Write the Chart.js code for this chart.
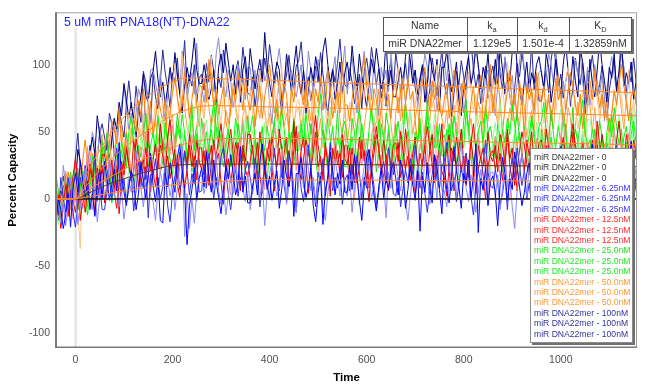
<!DOCTYPE html>
<html>
<head>
<meta charset="utf-8">
<script src="https://cdn.jsdelivr.net/npm/chart.js@4.4.1/dist/chart.umd.min.js"></script>
<style>
  body { margin: 0; background: #fff; }
</style>
</head>
<body>
<canvas id="chartKinetics" width="649" height="389"></canvas>
<script>
// sample times (s) of the measured traces, 20 per row
const times = [
  -40,-35,-30,-25,-20,-15,-10,-5,0,5,10,15,20,25,30,35,40,45,50,55,
  60,65,70,75,80,85,90,95,100,105,110,115,120,125,130,135,140,145,150,155,
  160,165,170,175,180,185,190,195,200,205,210,215,220,225,230,235,240,245,250,255,
  260,265,270,275,280,285,290,295,300,305,310,315,320,325,330,335,340,345,350,355,
  360,365,370,375,380,385,390,395,400,405,410,415,420,425,430,435,440,445,450,455,
  460,465,470,475,480,485,490,495,500,505,510,515,520,525,530,535,540,545,550,555,
  560,565,570,575,580,585,590,595,600,605,610,615,620,625,630,635,640,645,650,655,
  660,665,670,675,680,685,690,695,700,705,710,715,720,725,730,735,740,745,750,755,
  760,765,770,775,780,785,790,795,800,805,810,815,820,825,830,835,840,845,850,855,
  860,865,870,875,880,885,890,895,900,905,910,915,920,925,930,935,940,945,950,955,
  960,965,970,975,980,985,990,995,1000,1005,1010,1015,1020,1025,1030,1035,1040,1045,1050,1055,
  1060,1065,1070,1075,1080,1085,1090,1095,1100,1105,1110,1115,1120,1125,1130,1135,1140,1145,1150,1157];

const xTicks = [0, 200, 400, 600, 800, 1000];
const yTicks = [-100, -50, 0, 50, 100];

// buffer (0) traces
const zeroTimes = [-40, 1157];
const zero1 = [0, 0];
const zero2 = [0, 0];
const zero3 = [0, 0];

// 6.25nM
const blue1 = [
  -16,0,-8,-22,-12,4,-21,8,19,5,28,14,1,13,-8,4,-13,11,22,0,
  28,15,-1,11,22,6,42,18,5,-5,9,21,15,-8,4,28,14,0,18,34,
  10,-2,16,-16,-18,19,9,27,15,5,31,41,21,7,-34,-5,7,23,-1,15,
  23,9,35,17,5,29,13,1,-11,7,25,15,33,19,3,11,39,5,17,-3,
  -3,9,19,3,27,41,23,7,17,-1,11,21,-7,7,29,17,9,25,-13,19,
  19,31,15,1,9,23,-5,-17,5,17,-19,7,15,35,21,3,19,11,29,5,
  5,25,7,33,17,-1,-16,9,31,37,19,3,-9,9,23,1,15,7,21,27,
  15,3,29,19,-7,7,25,11,-1,21,-24,17,5,27,9,-3,33,23,7,-11,
  25,7,-3,17,39,21,9,-7,19,11,29,1,17,41,-25,15,7,23,-5,13,
  17,5,-20,11,31,19,-1,15,7,35,23,9,-5,5,19,27,11,37,21,3,
  1,15,-7,7,21,11,29,17,39,25,9,19,3,-11,5,17,31,13,7,23,
  27,41,19,5,15,-3,9,23,11,33,17,1,-13,7,21,11,25,43,19,9];
const blue2 = [
  -14,0,-18,-2,-20,-6,15,0,9,-19,-6,8,23,13,0,-8,9,-17,0,18,
  20,7,29,15,2,12,-6,6,-15,-1,15,5,21,36,20,8,-6,12,18,2,
  -2,-16,6,20,10,28,16,2,14,-8,8,24,38,-28,4,-22,0,-18,6,16,
  18,4,14,30,22,8,34,6,-4,10,-12,2,16,4,26,14,32,8,-2,20,
  -8,6,22,10,0,16,-20,4,18,28,14,2,8,32,20,-4,10,24,6,-10,
  14,26,8,40,22,6,16,-2,10,20,-6,-16,4,18,8,30,18,2,26,10,
  2,16,-10,8,20,-4,12,24,36,18,0,10,-8,6,22,14,-14,20,8,28,
  28,16,6,22,-2,-16,2,18,8,26,14,4,32,18,-4,8,16,0,38,6,
  6,-6,10,24,16,2,30,42,20,8,-2,18,10,-10,4,22,6,14,-4,20,
  20,0,18,-8,8,26,10,16,-6,-22,6,22,34,16,2,24,10,18,4,-2,
  10,22,-4,6,32,18,0,14,26,4,-12,8,20,-2,16,28,-8,2,18,36,
  0,18,28,8,-14,4,16,32,6,14,-4,24,8,-16,20,10,18,2,30,12];
const blue3 = [
  0,-12,16,0,-10,16,1,-10,-21,-3,16,6,25,11,-4,4,33,-1,12,-8,
  -8,5,15,-1,24,38,20,4,15,-3,9,19,-9,6,28,16,8,24,-14,18,
  18,30,14,0,9,23,-5,-17,5,17,27,7,15,35,21,3,19,11,29,5,
  6,26,8,34,18,0,16,10,32,38,20,4,-8,10,24,2,16,8,22,28,
  16,4,30,20,-6,8,26,12,0,22,38,18,6,28,10,-2,34,24,8,-10,
  26,8,-2,18,40,22,10,-6,20,12,30,2,18,42,6,16,8,24,-4,14,
  18,6,26,12,32,20,0,16,8,36,24,10,-4,6,20,28,12,38,22,4,
  2,16,-6,8,22,12,30,18,40,26,10,20,4,-10,6,18,32,14,8,24,
  28,42,20,6,16,-2,10,24,12,34,18,2,-12,8,22,12,26,44,20,10,
  8,22,12,-4,4,18,-8,20,30,16,38,24,10,22,0,12,-6,18,28,6,
  34,20,4,16,26,10,36,22,8,-2,12,24,18,-6,6,30,16,2,20,36,
  12,0,18,-14,4,20,10,28,16,6,32,42,22,8,18,-4,8,24,0,16];

// 12.5nM
const red1 = [
  -12,3,-22,-3,10,-13,4,17,30,13,-4,7,-10,5,22,15,-12,23,12,33,
  33,22,13,29,6,-7,11,28,18,37,25,16,44,31,9,21,30,14,52,21,
  21,9,25,40,32,18,46,59,37,25,15,35,28,8,22,40,24,32,14,38,
  38,18,36,10,26,44,28,34,12,-4,24,40,52,34,20,42,28,36,22,16,
  28,40,14,24,50,36,18,32,44,22,6,26,38,16,34,46,10,20,36,54,
  18,36,46,26,4,22,34,50,24,32,14,42,26,2,38,28,36,20,48,30,
  26,38,18,32,12,24,44,28,36,8,20,34,48,38,24,16,32,6,22,40,
  42,28,50,36,22,32,14,26,4,18,34,24,40,54,38,26,12,30,36,20,
  16,2,24,38,28,46,34,20,32,10,26,42,56,36,22,32,18,0,24,34,
  36,22,32,48,40,26,52,24,14,28,6,20,34,22,44,32,50,26,16,38,
  10,24,40,28,18,34,-2,22,36,46,32,20,26,50,38,14,28,42,24,8,
  32,44,26,58,40,24,34,16,28,38,12,2,22,36,26,48,36,20,44,28];
const red2 = [
  10,-7,-16,5,14,11,0,-15,12,5,24,-3,14,39,4,15,8,25,-2,17,
  21,10,31,17,38,27,7,24,16,45,33,20,6,17,31,39,24,50,34,17,
  15,29,7,22,36,26,44,33,55,41,25,35,20,6,22,34,48,30,24,40,
  43,57,35,21,31,13,25,39,27,49,33,17,3,23,37,27,41,59,35,25,
  23,37,27,11,19,33,7,35,45,31,53,39,25,37,15,27,9,33,43,21,
  49,35,19,31,41,25,61,37,23,13,27,39,33,9,21,45,31,17,35,51,
  27,15,33,1,19,35,25,43,31,21,47,57,37,23,33,11,23,39,15,31,
  39,25,51,33,21,45,29,17,5,23,41,31,49,35,19,27,55,21,33,13,
  13,25,35,19,43,57,39,23,33,15,27,37,9,23,45,33,25,41,3,35,
  35,47,31,17,25,39,11,-1,21,33,43,23,31,51,37,19,35,27,45,21,
  21,41,23,49,33,15,31,25,47,63,35,19,7,25,39,17,31,23,37,43,
  31,19,45,35,9,23,41,27,15,37,53,33,21,43,25,13,49,39,23,5];
const red3 = [
  4,-9,2,9,12,-1,14,-1,-10,5,-16,-1,14,3,26,15,34,11,2,25,
  -3,12,29,17,8,25,-11,14,28,39,25,14,20,45,33,9,24,38,20,5,
  29,41,23,56,38,22,32,15,27,37,11,1,22,36,26,48,36,20,44,28,
  22,36,10,28,40,16,32,44,56,38,20,30,12,26,42,34,6,40,28,48,
  48,36,26,42,18,4,22,38,28,46,34,24,52,38,16,28,36,20,58,26,
  26,14,30,44,36,22,50,62,40,28,18,38,30,10,24,42,26,34,16,40,
  40,20,38,12,28,46,30,36,14,-2,26,42,54,36,22,44,30,38,24,18,
  30,42,16,26,52,38,20,34,46,24,8,28,40,18,36,48,12,22,38,56,
  20,38,48,28,6,24,36,52,26,34,16,44,28,4,40,30,38,22,50,32,
  28,40,20,34,14,26,46,30,38,10,22,36,50,40,26,18,34,8,24,42,
  44,30,52,38,24,34,16,28,6,20,36,26,42,56,40,28,14,32,38,22,
  18,4,26,40,30,48,36,22,34,12,28,44,58,38,24,34,20,2,26,36];

// 25.0nM
const green1 = [
  18,5,-10,3,14,-1,16,13,0,-8,8,21,16,-6,7,32,20,7,26,43,
  20,9,28,-3,16,33,24,43,32,23,50,61,42,29,39,18,31,47,24,40,
  49,35,62,44,33,57,41,30,18,36,55,45,63,49,33,42,70,36,48,28,
  28,40,50,34,58,72,54,38,48,30,42,52,24,38,60,48,40,56,18,50,
  50,62,46,32,40,54,26,14,36,48,58,38,46,66,52,34,50,42,60,36,
  36,56,38,64,48,30,46,40,62,78,50,34,22,40,54,32,46,38,52,58,
  46,34,60,50,24,38,56,42,30,52,68,48,36,58,40,28,64,54,38,20,
  56,38,28,48,70,52,40,24,50,42,60,32,48,72,36,46,38,54,26,44,
  48,36,56,42,62,50,30,46,38,66,54,40,26,36,50,58,42,68,52,34,
  32,46,24,38,52,42,60,48,70,56,40,50,34,20,36,48,62,44,38,54,
  58,72,50,36,46,28,40,54,42,64,48,32,18,38,52,42,56,74,50,40,
  38,52,42,26,34,48,22,50,60,46,68,54,40,52,30,42,24,48,58,36];
const green2 = [
  -8,-19,-2,13,6,-7,12,18,14,4,-4,17,10,-8,7,26,12,21,4,29,
  30,11,30,5,22,41,26,33,12,-3,26,43,56,39,25,48,35,43,30,24,
  36,48,23,33,60,46,28,43,55,33,18,38,50,28,46,59,23,33,49,67,
  31,49,59,39,17,35,47,63,37,45,27,55,39,15,51,41,49,33,61,43,
  39,51,31,45,25,37,57,41,49,21,33,47,61,51,37,29,45,19,35,53,
  55,41,63,49,35,45,27,39,17,31,47,37,53,67,51,39,25,43,49,33,
  29,15,37,51,41,59,47,33,45,23,39,55,69,49,35,45,31,13,37,47,
  49,35,45,61,53,39,65,37,27,41,19,33,47,35,57,45,63,39,29,51,
  23,37,53,41,31,47,11,35,49,59,45,33,39,63,51,27,41,55,37,21,
  45,57,39,71,53,37,47,29,41,51,25,15,35,49,39,61,49,33,57,41,
  33,47,21,39,51,27,43,55,67,49,31,41,23,37,53,45,17,51,39,59,
  59,47,37,53,29,15,33,49,39,57,45,35,63,49,27,39,47,31,69,37];
const green3 = [
  -14,1,-20,-5,10,1,20,9,24,19,5,16,1,-12,5,18,34,17,12,29,
  34,49,28,15,26,9,22,36,25,48,33,18,5,26,40,31,46,64,41,31,
  30,44,35,19,28,42,16,44,55,41,63,49,36,48,26,38,20,44,54,32,
  60,46,30,42,52,36,72,48,34,24,38,50,44,20,32,56,42,28,46,62,
  38,26,44,12,30,46,36,54,42,32,58,68,48,34,44,22,34,50,26,42,
  50,36,62,44,32,56,40,28,16,34,52,42,60,46,30,38,66,32,44,24,
  24,36,46,30,54,68,50,34,44,26,38,48,20,34,56,44,36,52,14,46,
  46,58,42,28,36,50,22,10,32,44,54,34,42,62,48,30,46,38,56,32,
  32,52,34,60,44,26,42,36,58,74,46,30,18,36,50,28,42,34,48,54,
  42,30,56,46,20,34,52,38,26,48,64,44,32,54,36,24,60,50,34,16,
  52,34,24,44,66,48,36,20,46,38,56,28,44,68,32,42,34,50,22,40,
  44,32,52,38,58,46,26,42,34,62,50,36,22,32,46,54,38,64,48,30];

// 50.0nM
const orange1 = [
  -10,-14,-8,8,0,20,10,-2,12,-8,10,28,44,26,14,26,14,-2,24,36,
  40,28,40,58,52,40,68,42,34,50,29,45,60,50,73,62,82,59,50,73,
  46,61,78,67,58,75,40,64,79,89,76,64,71,95,83,60,74,88,70,54,
  78,90,72,104,86,70,80,62,74,84,58,48,68,82,72,94,82,66,90,74,
  66,80,54,72,84,60,76,88,100,82,64,74,56,70,86,78,50,84,72,92,
  92,80,70,86,62,48,66,82,72,90,78,68,96,82,60,72,80,64,102,70,
  70,58,74,88,80,66,94,106,84,72,62,82,74,54,68,86,70,78,60,84,
  84,64,82,56,72,90,74,80,58,42,70,86,98,80,66,88,74,82,68,62,
  74,86,60,70,96,82,64,78,90,68,52,72,84,62,80,92,56,66,82,100,
  64,82,92,72,50,68,80,96,70,78,60,88,72,48,84,74,82,66,94,76,
  72,84,64,78,58,70,90,74,82,54,66,80,94,84,70,62,78,52,68,86,
  88,74,96,82,68,78,60,72,50,64,80,70,86,100,84,72,58,76,82,66];
const orange2 = [
  -21,-8,4,-10,12,20,15,1,13,-10,-37,23,-3,12,36,26,20,38,1,35,
  37,51,37,25,34,50,24,14,38,51,63,44,54,75,62,45,63,56,75,52,
  53,74,57,84,68,51,68,62,85,101,74,58,108,65,79,58,72,64,78,84,
  72,60,86,76,106,64,82,68,56,78,94,74,62,84,66,54,90,80,64,46,
  82,64,54,74,96,78,66,50,76,68,86,58,74,98,62,72,64,80,52,70,
  74,62,82,68,88,76,56,72,64,92,80,66,52,62,76,84,68,94,78,60,
  58,72,50,64,78,68,86,74,96,82,66,76,60,46,62,74,88,70,64,80,
  84,98,76,62,72,54,66,80,68,90,74,58,44,64,78,68,82,100,76,66,
  64,78,68,52,60,74,48,76,86,72,94,80,66,78,56,68,50,74,84,62,
  90,76,60,72,82,66,102,78,64,54,68,80,74,50,62,86,72,58,76,92,
  68,56,74,42,60,76,66,84,72,62,88,98,78,64,74,52,64,80,56,72,
  80,66,92,74,62,86,70,58,46,64,82,72,90,76,60,68,96,62,74,54];
const orange3 = [
  -6,7,-18,-6,21,9,-8,8,21,1,-14,8,21,1,20,34,-1,11,28,48,
  13,33,44,26,5,25,38,56,31,40,24,53,38,16,53,44,53,38,67,50,
  47,60,41,56,37,50,70,55,63,36,48,63,77,68,54,47,63,37,54,72,
  74,60,82,68,54,64,46,58,36,50,66,56,72,86,70,58,44,62,68,52,
  48,34,56,70,60,78,66,52,64,42,58,74,88,68,54,64,50,32,56,66,
  68,54,64,80,72,58,84,56,46,60,38,52,66,54,76,64,82,58,48,70,
  42,56,72,60,50,66,30,54,68,78,64,52,58,82,70,46,60,74,56,40,
  64,76,58,90,72,56,66,48,60,70,44,34,54,68,58,80,68,52,76,60,
  52,66,40,58,70,46,62,74,86,68,50,60,42,56,72,64,36,70,58,78,
  78,66,56,72,48,34,52,68,58,76,64,54,82,68,46,58,66,50,88,56,
  56,44,60,74,66,52,80,92,70,58,48,68,60,40,54,72,56,64,46,70,
  70,50,68,42,58,76,60,66,44,28,56,72,84,66,52,74,60,68,54,48];

// 100nM
const navy1 = [
  -6,-16,6,-5,18,9,-8,11,6,37,28,17,6,19,36,46,33,62,48,32,
  32,48,28,44,60,52,72,62,86,74,60,72,58,46,64,77,93,77,72,90,
  95,110,89,76,87,70,83,98,86,109,93,78,64,84,98,88,102,120,96,86,
  86,100,90,74,82,96,70,98,108,94,116,102,88,100,78,90,72,96,106,84,
  112,98,82,94,104,88,124,100,86,76,90,102,96,72,84,108,94,80,98,114,
  90,78,96,64,82,98,88,106,94,84,110,120,100,86,96,74,86,102,78,94,
  102,88,114,96,84,108,92,80,68,86,104,94,112,98,82,90,118,84,96,76,
  76,88,98,82,106,120,102,86,96,78,90,100,72,86,108,96,88,104,66,98,
  98,110,94,80,88,102,74,62,84,96,106,86,94,114,100,82,98,90,108,84,
  84,104,86,112,96,78,94,88,110,126,98,82,70,88,102,80,94,86,100,106,
  94,82,108,98,72,86,104,90,78,100,116,96,84,106,88,76,112,102,86,68,
  104,86,76,96,118,100,88,72,98,90,108,80,96,120,84,94,86,102,74,92];
const navy2 = [
  -8,6,-10,25,10,-3,10,-5,10,23,0,-7,16,33,26,50,41,28,54,40,
  34,50,26,46,60,38,56,70,84,68,52,64,48,64,82,75,49,85,74,96,
  97,86,77,94,71,58,77,94,84,103,91,82,110,96,74,86,94,78,116,84,
  84,72,88,102,94,80,108,120,98,86,76,96,88,68,82,100,84,92,74,98,
  98,78,96,70,86,104,88,94,72,56,84,100,112,94,80,102,88,96,82,76,
  88,100,74,84,110,96,78,92,104,82,66,86,98,76,94,106,70,80,96,114,
  78,96,106,86,64,82,94,110,84,92,74,102,86,62,98,88,96,80,108,90,
  86,98,78,92,72,84,104,88,96,68,80,94,108,98,84,76,92,66,82,100,
  102,88,110,96,82,92,74,86,64,78,94,84,100,114,98,86,72,90,96,80,
  76,62,84,98,88,106,94,80,92,70,86,102,116,96,82,92,78,60,84,94,
  96,82,92,108,100,86,112,84,74,88,66,80,94,82,104,92,110,86,76,98,
  70,84,100,88,78,94,58,82,96,106,92,80,86,110,98,74,88,102,84,68];
const navy3 = [
  -18,4,-12,17,4,-11,8,5,30,49,24,11,2,23,40,20,37,32,48,56,
  46,36,64,56,32,48,68,56,46,70,88,70,60,84,68,57,95,87,72,56,
  93,76,67,88,111,94,83,68,94,87,105,78,94,118,82,92,84,100,72,90,
  93,81,101,87,107,95,75,91,83,111,99,85,71,81,95,103,87,113,97,79,
  77,91,69,83,97,87,105,93,115,101,85,95,79,65,81,93,107,89,83,99,
  103,117,95,81,91,73,85,99,87,109,93,77,63,83,97,87,101,119,95,85,
  83,97,87,71,79,93,67,95,105,91,113,99,85,97,75,87,69,93,103,81,
  109,95,79,91,101,85,121,97,83,73,87,99,93,69,81,105,91,77,95,111,
  87,75,93,61,79,95,85,103,91,81,107,117,97,83,93,71,83,99,75,91,
  99,85,111,93,81,105,89,77,65,83,101,91,109,95,79,87,115,81,93,73,
  73,85,95,79,103,117,99,83,93,75,87,97,69,83,105,93,85,101,63,95,
  95,107,91,77,85,99,71,59,81,93,103,83,91,111,97,79,95,87,105,81];

// fitted curves
const fitTimes = [-40,0,25,50,75,100,125,150,175,200,225,250,300,400,500,600,700,800,900,1000,1100,1157];
const fit100 = [0,0,20,36,50,61,70,77,83,87,90,90,89.5,88.5,87,85.8,84.6,83.4,82.2,81,79.8,79];
const fit50 = [0,0,11,21,30,38,45,51,57,62,66,68.5,69.5,68.5,68,67,66,65,64.2,63.4,62.5,62];
const fit25 = [0,0,6,12,17,22,27,31,35,38.5,41,43,45,45,44.8,44,43.5,42.8,42,41.5,40.8,40.3];
const fit12 = [0,0,4,8,12,15,18,20.5,23,25,25.5,26,26,26,25.8,25.5,25.2,25,24.7,24.4,24.1,24];
const fit6 = [0,0,1.5,3,4.5,6,7.3,8.5,9.5,10.5,11.3,12,13,14.5,14,14,13.8,13.6,13.5,13.4,13.2,13];

// kinetic constants table
const tableHead = ['Name', 'k|a', 'k|d', 'K|D'];
const tableRow = ['miR DNA22mer', '1.129e5', '1.501e-4', '1.32859nM'];

const FONT = '"Liberation Sans", Arial, sans-serif';

function pts(xs, ys) {
  return ys.map((y, i) => ({ x: xs[i], y: y }));
}

function trace(label, xs, ys, color, legendColor) {
  return { label: label, data: pts(xs, ys), borderColor: color, borderWidth: 1, legendColor: legendColor };
}

function fit(xs, ys, color) {
  return { label: 'fit', data: pts(xs, ys), borderColor: color, borderWidth: 1, cubicInterpolationMode: 'monotone' };
}

const datasets = [
  fit(fitTimes, fit100, '#ff8a2a'),
  fit(fitTimes, fit50, '#ff8a2a'),
  fit(fitTimes, fit25, '#ff8a2a'),
  fit(fitTimes, fit12, '#5a3a18'),
  fit(fitTimes, fit6, '#ff8a2a'),
  trace('miR DNA22mer - 0', zeroTimes, zero1, '#202020', '#333333'),
  trace('miR DNA22mer - 0', zeroTimes, zero2, '#202020', '#333333'),
  trace('miR DNA22mer - 0', zeroTimes, zero3, '#202020', '#333333'),
  trace('miR DNA22mer - 6.25nM', times, blue1, '#0000ff', '#3535ff'),
  trace('miR DNA22mer - 6.25nM', times, blue2, '#8888ff', '#3535ff'),
  trace('miR DNA22mer - 6.25nM', times, blue3, '#3030ee', '#3535ff'),
  trace('miR DNA22mer - 12.5nM', times, red1, '#ff0000', '#ff2a2a'),
  trace('miR DNA22mer - 12.5nM', times, red2, '#ff9090', '#ff2a2a'),
  trace('miR DNA22mer - 12.5nM', times, red3, '#dd0000', '#ff2a2a'),
  trace('miR DNA22mer - 25.0nM', times, green1, '#00ff00', '#22e822'),
  trace('miR DNA22mer - 25.0nM', times, green2, '#90ff90', '#22e822'),
  trace('miR DNA22mer - 25.0nM', times, green3, '#22dd22', '#22e822'),
  trace('miR DNA22mer - 50.0nM', times, orange1, '#ff8000', '#ff9933'),
  trace('miR DNA22mer - 50.0nM', times, orange2, '#ffc488', '#ff9933'),
  trace('miR DNA22mer - 50.0nM', times, orange3, '#ffa040', '#ff9933'),
  trace('miR DNA22mer - 100nM', times, navy1, '#000080', '#333399'),
  trace('miR DNA22mer - 100nM', times, navy2, '#8c8cd0', '#333399'),
  trace('miR DNA22mer - 100nM', times, navy3, '#2a2a9a', '#333399')
];

const extras = {
  id: 'extras',
  beforeDatasetsDraw(chart) {
    const { ctx, chartArea, scales } = chart;
    const x0 = scales.x.getPixelForValue(0);
    ctx.save();
    ctx.fillStyle = '#e6e6e6';
    ctx.fillRect(x0 - 1, 28, 2.5, chartArea.bottom - 28);
    ctx.restore();
  },
  afterDatasetsDraw(chart) {
    const { ctx, chartArea } = chart;
    const a = chartArea;
    ctx.save();

    // frame
    ctx.strokeStyle = '#a0a0a0';
    ctx.lineWidth = 1;
    ctx.strokeRect(a.left + 0.5, a.top + 0.5, a.right - a.left - 1, a.bottom - a.top - 1);
    ctx.fillStyle = '#7a7a7a';
    ctx.fillRect(a.left - 1, a.top, 2, a.bottom - a.top);
    ctx.fillRect(a.left, a.bottom - 1.5, a.right - a.left, 1.5);

    // title
    ctx.fillStyle = '#1f1fff';
    ctx.font = '12.3px ' + FONT;
    ctx.textAlign = 'left';
    ctx.textBaseline = 'alphabetic';
    ctx.fillText("5 uM miR PNA18(N'T)-DNA22", 64, 25.5);

    // table
    const tx = 383, ty = 17, tw = 249, th = 35;
    const cols = [383, 467, 517, 569, 632];
    ctx.fillStyle = '#fff';
    ctx.fillRect(tx, ty, tw, th);
    ctx.fillStyle = '#707070';
    ctx.fillRect(tx + tw, ty + 2, 2, th);
    ctx.fillRect(tx + 2, ty + th, tw, 2);
    ctx.strokeStyle = '#555';
    ctx.strokeRect(tx + 0.5, ty + 0.5, tw - 1, th - 1);
    ctx.beginPath();
    ctx.moveTo(tx, ty + 18.5); ctx.lineTo(tx + tw, ty + 18.5);
    for (let c = 1; c < 4; c++) { ctx.moveTo(cols[c] + 0.5, ty); ctx.lineTo(cols[c] + 0.5, ty + th); }
    ctx.stroke();
    ctx.fillStyle = '#333';
    ctx.textBaseline = 'middle';
    for (let c = 0; c < 4; c++) {
      const cx = (cols[c] + cols[c + 1]) / 2;
      const parts = tableHead[c].split('|');
      ctx.font = '10.5px ' + FONT;
      if (parts.length === 1) {
        ctx.textAlign = 'center';
        ctx.fillText(parts[0], cx, ty + 9.5);
      } else {
        const w1 = ctx.measureText(parts[0]).width;
        ctx.font = '7.5px ' + FONT;
        const w2 = ctx.measureText(parts[1]).width;
        const sx = cx - (w1 + w2) / 2;
        ctx.textAlign = 'left';
        ctx.font = '10.5px ' + FONT;
        ctx.fillText(parts[0], sx, ty + 9);
        ctx.font = '7.5px ' + FONT;
        ctx.fillText(parts[1], sx + w1, ty + 12.5);
      }
      ctx.font = '10.5px ' + FONT;
      ctx.textAlign = 'center';
      ctx.fillText(tableRow[c], cx, ty + 27);
    }

    // legend
    const lx = 530, ly = 148, lw = 103, lh = 195;
    ctx.fillStyle = '#fff';
    ctx.fillRect(lx, ly, lw, lh);
    ctx.fillStyle = '#707070';
    ctx.fillRect(lx + lw, ly + 2, 2, lh);
    ctx.fillRect(lx + 2, ly + lh, lw, 2);
    ctx.strokeStyle = '#8a8a8a';
    ctx.strokeRect(lx + 0.5, ly + 0.5, lw - 1, lh - 1);
    ctx.font = '8.6px ' + FONT;
    ctx.textAlign = 'left';
    ctx.textBaseline = 'middle';
    let k = 0;
    chart.data.datasets.forEach(ds => {
      if (!ds.legendColor) return;
      ctx.fillStyle = ds.legendColor;
      ctx.fillText(ds.label, lx + 4, 157.5 + k * 10.4);
      k++;
    });
    ctx.restore();
  }
};

const ctx = document.getElementById('chartKinetics').getContext('2d');

const myChart = new Chart(ctx, {
  type: 'line',
  data: { datasets: datasets },
  options: {
    responsive: false,
    animation: false,
    events: [],
    layout: { padding: { left: 0, right: 12, top: 12, bottom: 0 } },
    elements: { point: { radius: 0 }, line: { borderWidth: 1, tension: 0 } },
    plugins: { legend: { display: false }, tooltip: { enabled: false } },
    scales: {
      x: {
        type: 'linear',
        min: -40,
        max: 1157,
        afterFit: s => { s.height = 41; },
        afterBuildTicks: s => { s.ticks = xTicks.map(v => ({ value: v })); },
        grid: { display: false, drawTicks: false },
        border: { display: false },
        ticks: { padding: 6, color: '#505050', font: { family: FONT, size: 10.5 }, callback: v => String(v) },
        title: { display: true, text: 'Time', color: '#000', padding: { top: 4, bottom: 4 }, font: { family: FONT, size: 11.5, weight: 'bold' } }
      },
      y: {
        min: -111,
        max: 139,
        afterFit: s => { s.width = 56; },
        afterBuildTicks: s => { s.ticks = yTicks.map(v => ({ value: v })); },
        grid: { display: false, drawTicks: false },
        border: { display: false },
        ticks: { padding: 6, color: '#505050', font: { family: FONT, size: 10.5 }, callback: v => String(v) },
        title: { display: true, text: 'Percent Capacity', color: '#000', padding: { top: 6, bottom: 4 }, font: { family: FONT, size: 11.5, weight: 'bold' } }
      }
    }
  },
  plugins: [extras]
});
</script>
</body>
</html>
